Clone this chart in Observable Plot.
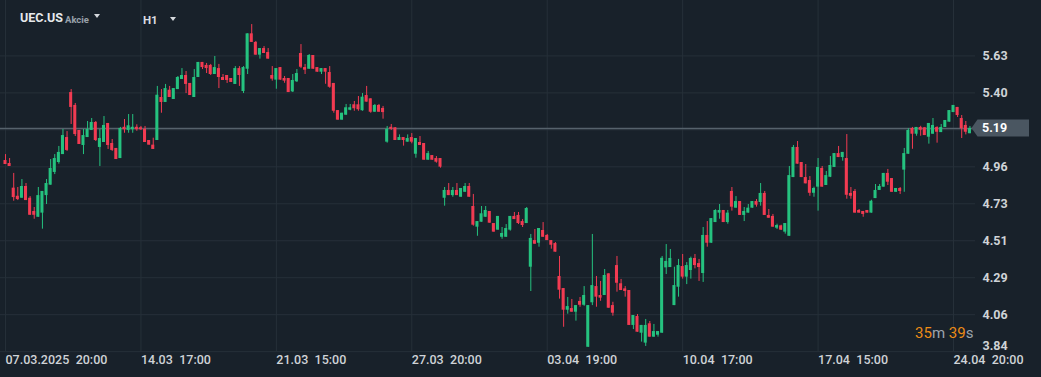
<!DOCTYPE html>
<html><head><meta charset="utf-8">
<script src="https://cdn.jsdelivr.net/npm/d3@7"></script>
<script src="https://cdn.jsdelivr.net/npm/@observablehq/plot@0.6"></script>
<style>
html,body{margin:0;padding:0;background:#18212a;overflow:hidden}
#wrap{position:relative;width:1041px;height:377px;font-family:Roboto,sans-serif}
#wrap svg{display:block}
.hdr{position:absolute;white-space:nowrap;line-height:1}
.tri{position:absolute;width:0;height:0;border-left:3.5px solid transparent;border-right:3.5px solid transparent;border-top:4px solid #d5d9dd}
</style></head><body><div id="wrap"></div><script>
const symbol = "UEC.US", assetType = "Akcie", timeframe = "H1";
const timerParts = [["35","m"],["39","s"]];

const opens = [4.995,4.977,4.828,4.779,4.767,4.838,4.767,4.687,4.652,4.677,
4.783,4.846,4.923,4.983,5.031,5.134,5.406,5.328,5.177,5.086,
5.134,5.177,5.225,5.074,5.104,5.219,5.098,5.068,5.007,5.196,
5.177,5.181,5.196,5.193,5.184,5.116,5.088,5.116,5.376,5.346,
5.420,5.364,5.424,5.485,5.509,5.461,5.376,5.497,5.588,5.570,
5.570,5.515,5.551,5.497,5.509,5.491,5.455,5.551,5.412,5.547,
5.761,5.709,5.632,5.672,5.648,5.509,5.481,5.557,5.491,5.491,
5.410,5.471,5.642,5.557,5.547,5.630,5.557,5.529,5.551,5.527,
5.461,5.297,5.239,5.269,5.299,5.332,5.332,5.296,5.388,5.368,
5.287,5.328,5.310,5.106,5.196,5.193,5.116,5.134,5.106,5.134,
5.033,5.104,5.098,4.997,5.025,5.007,5.007,4.767,4.814,4.783,
4.814,4.773,4.803,4.838,4.717,4.592,4.622,4.652,4.687,4.614,
4.574,4.531,4.531,4.574,4.657,4.663,4.626,4.614,4.350,4.511,
4.495,4.572,4.542,4.511,4.493,4.294,4.221,4.090,4.100,4.078,
4.143,4.120,3.866,4.135,4.233,4.179,4.179,4.310,4.118,4.360,
4.250,4.219,4.209,3.998,4.052,3.951,3.891,4.008,3.927,3.939,
3.951,4.346,4.348,4.118,4.229,4.354,4.290,4.330,4.403,4.372,
4.312,4.542,4.495,4.620,4.677,4.693,4.620,4.808,4.707,4.747,
4.663,4.677,4.707,4.747,4.741,4.796,4.663,4.657,4.586,4.600,
4.562,4.537,4.892,5.074,4.983,4.892,4.874,4.797,4.834,4.947,
4.844,4.894,4.953,5.037,5.013,5.007,4.796,4.808,4.693,4.687,
4.693,4.677,4.765,4.814,4.834,4.917,4.886,4.803,4.826,4.937,
5.033,5.189,5.154,5.195,5.193,5.136,5.154,5.195,5.164,5.195,
5.227,5.285,5.316,5.249,5.207,5.157];

const highs = [5.031,5.007,4.917,4.832,4.880,4.856,4.777,4.711,4.832,4.808,
4.880,5.001,5.031,5.080,5.183,5.170,5.424,5.340,5.177,5.183,
5.231,5.249,5.231,5.183,5.261,5.219,5.122,5.068,5.195,5.243,
5.273,5.273,5.211,5.201,5.201,5.116,5.130,5.443,5.424,5.455,
5.443,5.430,5.503,5.551,5.533,5.461,5.545,5.588,5.588,5.582,
5.576,5.624,5.576,5.515,5.509,5.491,5.563,5.563,5.563,5.761,
5.817,5.715,5.672,5.684,5.672,5.563,5.551,5.557,5.503,5.491,
5.515,5.545,5.696,5.576,5.636,5.630,5.557,5.551,5.551,5.563,
5.461,5.297,5.281,5.334,5.334,5.352,5.382,5.400,5.443,5.368,
5.334,5.334,5.322,5.201,5.213,5.193,5.150,5.134,5.150,5.158,
5.128,5.140,5.098,5.050,5.025,5.019,5.007,4.832,4.856,4.832,
4.856,4.826,4.856,4.856,4.790,4.626,4.717,4.717,4.687,4.614,
4.657,4.590,4.608,4.657,4.681,4.681,4.638,4.711,4.548,4.578,
4.584,4.620,4.548,4.511,4.499,4.415,4.221,4.167,4.155,4.118,
4.167,4.233,4.118,4.548,4.294,4.264,4.336,4.310,4.138,4.415,
4.276,4.233,4.209,4.058,4.064,3.998,4.034,4.022,4.004,3.961,
4.415,4.487,4.457,4.350,4.397,4.427,4.378,4.411,4.427,4.397,
4.590,4.626,4.644,4.697,4.729,4.693,4.693,4.832,4.777,4.747,
4.711,4.729,4.747,4.759,4.856,4.808,4.699,4.669,4.610,4.604,
4.614,4.959,5.086,5.110,4.983,4.971,4.898,4.834,5.007,4.959,
4.929,5.019,5.037,5.080,5.044,5.152,4.832,4.820,4.699,4.687,
4.693,4.755,4.850,4.850,4.917,4.941,4.886,4.826,4.832,5.068,
5.187,5.195,5.195,5.202,5.195,5.219,5.249,5.199,5.213,5.237,
5.297,5.328,5.316,5.267,5.231,5.201];

const lows = [4.971,4.959,4.749,4.753,4.767,4.753,4.664,4.640,4.652,4.580,
4.729,4.846,4.910,4.973,5.031,5.050,5.213,5.140,5.092,5.031,
5.134,5.177,5.110,4.959,5.104,5.062,5.050,5.001,5.007,5.160,
5.160,5.160,5.172,5.177,5.104,5.088,5.062,5.116,5.281,5.346,
5.376,5.364,5.424,5.485,5.400,5.388,5.376,5.497,5.545,5.521,
5.509,5.515,5.430,5.479,5.461,5.467,5.455,5.443,5.400,5.515,
5.709,5.632,5.608,5.642,5.608,5.475,5.426,5.481,5.462,5.406,
5.406,5.467,5.551,5.515,5.547,5.547,5.529,5.515,5.456,5.432,
5.281,5.239,5.239,5.269,5.296,5.293,5.293,5.293,5.348,5.281,
5.287,5.287,5.245,5.100,5.177,5.116,5.116,5.082,5.106,5.096,
5.009,5.086,4.997,4.997,4.997,4.979,4.949,4.719,4.783,4.773,
4.783,4.773,4.803,4.773,4.598,4.537,4.622,4.652,4.616,4.562,
4.574,4.519,4.531,4.568,4.638,4.608,4.590,4.614,4.203,4.489,
4.471,4.531,4.511,4.459,4.441,4.157,3.987,4.066,4.078,4.024,
4.108,4.114,3.866,4.118,4.108,4.144,4.179,4.102,4.054,4.199,
4.209,4.169,3.998,3.973,3.957,3.897,3.871,3.927,3.927,3.927,
3.951,4.306,4.348,4.118,4.169,4.278,4.245,4.278,4.340,4.264,
4.258,4.471,4.495,4.620,4.640,4.620,4.610,4.689,4.707,4.663,
4.626,4.677,4.707,4.713,4.719,4.663,4.646,4.592,4.578,4.572,
4.550,4.537,4.892,4.973,4.892,4.854,4.779,4.773,4.689,4.834,
4.844,4.892,4.953,5.013,4.991,4.761,4.761,4.677,4.677,4.652,
4.677,4.677,4.765,4.814,4.834,4.844,4.803,4.803,4.790,4.803,
5.033,5.063,5.142,5.142,5.146,5.094,5.154,5.100,5.164,5.195,
5.227,5.285,5.255,5.128,5.150,5.157];

const closes = [4.971,4.959,4.771,4.759,4.838,4.753,4.664,4.664,4.783,4.808,
4.856,4.947,5.007,5.044,5.146,5.056,5.316,5.152,5.092,5.146,
5.183,5.225,5.116,5.128,5.207,5.086,5.056,5.001,5.189,5.181,
5.205,5.196,5.181,5.181,5.104,5.088,5.062,5.390,5.346,5.430,
5.376,5.430,5.497,5.509,5.455,5.388,5.497,5.588,5.557,5.551,
5.515,5.557,5.497,5.479,5.479,5.467,5.551,5.509,5.557,5.761,
5.709,5.632,5.672,5.642,5.608,5.487,5.551,5.481,5.475,5.406,
5.479,5.521,5.559,5.541,5.630,5.547,5.529,5.551,5.529,5.438,
5.293,5.239,5.281,5.314,5.314,5.308,5.302,5.378,5.348,5.287,
5.328,5.287,5.285,5.184,5.184,5.116,5.134,5.116,5.128,5.106,
5.128,5.086,4.997,5.037,4.997,4.985,4.955,4.814,4.783,4.814,
4.783,4.826,4.838,4.773,4.604,4.626,4.673,4.693,4.616,4.562,
4.657,4.554,4.584,4.657,4.638,4.614,4.602,4.705,4.524,4.489,
4.584,4.531,4.511,4.483,4.441,4.211,4.090,4.112,4.078,4.118,
4.120,4.179,4.118,4.239,4.169,4.163,4.300,4.102,4.072,4.253,
4.209,4.203,3.998,4.058,3.957,3.998,3.998,3.927,3.961,3.961,
4.404,4.385,4.403,4.239,4.360,4.290,4.360,4.403,4.360,4.348,
4.542,4.495,4.644,4.693,4.693,4.620,4.677,4.713,4.747,4.663,
4.687,4.707,4.747,4.725,4.796,4.663,4.646,4.592,4.602,4.574,
4.614,4.904,5.074,4.973,4.892,4.854,4.797,4.826,4.953,4.834,
4.904,4.965,5.037,5.013,5.044,4.785,4.779,4.677,4.677,4.669,
4.677,4.749,4.814,4.838,4.917,4.864,4.803,4.826,4.808,5.037,
5.177,5.154,5.195,5.178,5.146,5.219,5.207,5.166,5.195,5.237,
5.297,5.328,5.267,5.187,5.166,5.189];

const xTickIdx = [0, 33, 66, 99, 132, 165, 198, 231];
const xTickLabels = ["07.03.2025\u200220:00","14.03\u200217:00","21.03\u200215:00","27.03\u200220:00",
                     "03.04\u200219:00","10.04\u200217:00","17.04\u200215:00","24.04\u200220:00"];
const yTicks = [3.8395, 4.063, 4.2865, 4.51, 4.7335, 4.957, 5.1805, 5.404, 5.6275];

const UP = "#25c27f", DOWN = "#f23b52", BG = "#18212a", GRID = "#263039", TXT = "#cfd3d7";

const candles = opens.map((o, i) => {
  const c = closes[i];
  let b1 = Math.min(o, c), b2 = Math.max(o, c);
  if (b2 - b1 < 0.006) { const m = (b1 + b2) / 2; b1 = m - 0.003; b2 = m + 0.003; }
  return {i, open: o, high: highs[i], low: lows[i], close: c, b1, b2, col: c >= o ? UP : DOWN};
});
const lastClose = closes[closes.length - 1];
const labelMap = new Map(xTickIdx.map((d, k) => [d, xTickLabels[k]]));
const bottomTick = yTicks[0];
const shownY = yTicks.filter(t => Math.abs(t - lastClose) > 0.05 && t !== bottomTick);

const chart = Plot.plot({
  width: 1041, height: 377,
  marginTop: 0, marginLeft: 0, marginRight: 66, marginBottom: 26,
  style: {background: BG, color: TXT, fontFamily: "Roboto, sans-serif", fontSize: "12.5px"},
  x: {type: "linear", domain: [-1.218, 236.36], axis: null, label: null},
  y: {domain: [3.8404, 5.9625], axis: null, label: null},
  marks: [
    Plot.gridY(yTicks, {stroke: GRID, strokeOpacity: 1}),
    Plot.gridX(xTickIdx, {stroke: GRID, strokeOpacity: 1}),
    Plot.ruleY([lastClose], {stroke: "#56626c", strokeWidth: 1.5}),
    Plot.ruleX(candles, {x: "i", y1: "low", y2: "high", stroke: "col", strokeWidth: 1}),
    Plot.rect(candles, {x1: d => d.i - 0.37, x2: d => d.i + 0.37, y1: "b1", y2: "b2", fill: "col"}),
    Plot.axisY(shownY, {anchor: "right", tickSize: 0, tickPadding: 7, tickFormat: d => d.toFixed(2),
      fontWeight: 700, fontSize: 12.5, fill: TXT, label: null}),
    Plot.axisY([bottomTick], {anchor: "right", tickSize: 0, tickPadding: 7, tickFormat: d => d.toFixed(2),
      fontWeight: 700, fontSize: 12.5, fill: TXT, dy: -6, label: null}),
    Plot.axisX(xTickIdx, {anchor: "bottom", tickSize: 0, tickPadding: 4, tickFormat: d => labelMap.get(d),
      textAnchor: "start", fontWeight: 500, fontSize: 12.5, fill: TXT, label: null})
  ]
});

const wrap = document.getElementById("wrap");
wrap.appendChild(chart);

// current price tag, positioned with the chart's own y scale
const yp = chart.scale("y").apply(lastClose);
const svg = d3.select(chart.tagName.toLowerCase() === "svg" ? chart : chart.querySelector("svg"));
svg.append("path")
  .attr("d", `M971.5,${yp} L977.5,${yp - 8.5} L1029,${yp - 8.5} L1029,${yp + 8.5} L977.5,${yp + 8.5} Z`)
  .attr("fill", "#4a5661");
svg.append("text").attr("x", 982).attr("y", yp).attr("dy", "0.35em")
  .attr("text-anchor", "start")
  .attr("font-family", "Roboto, sans-serif").attr("font-size", 12.5).attr("font-weight", 700)
  .attr("fill", "#ffffff").text(lastClose.toFixed(2));

// header overlay
function addDiv(text, css) {
  const d = document.createElement("div");
  d.className = "hdr"; d.textContent = text; d.style.cssText += css; wrap.appendChild(d); return d;
}
addDiv(symbol, "left:20px;top:12px;font-size:12.5px;font-weight:700;color:#e6e9ec;");
addDiv(assetType, "left:65px;top:15px;font-size:9.5px;font-weight:700;color:#98a1aa;");
addDiv(timeframe, "left:143px;top:15px;font-size:11.5px;font-weight:700;color:#d8dce0;");
const t1 = document.createElement("div"); t1.className = "tri"; t1.style.cssText += "left:94px;top:14px;"; wrap.appendChild(t1);
const t2 = document.createElement("div"); t2.className = "tri"; t2.style.cssText += "left:170px;top:17px;"; wrap.appendChild(t2);

// countdown
const tm = document.createElement("div");
tm.className = "hdr";
tm.style.cssText += "left:915px;top:326px;font-size:15px;color:#9ca4ac;";
tm.innerHTML = timerParts.map(([n, u]) => `<span style="color:#ec8c17">${n}</span>${u}`).join(" ");
wrap.appendChild(tm);
</script></body></html>
